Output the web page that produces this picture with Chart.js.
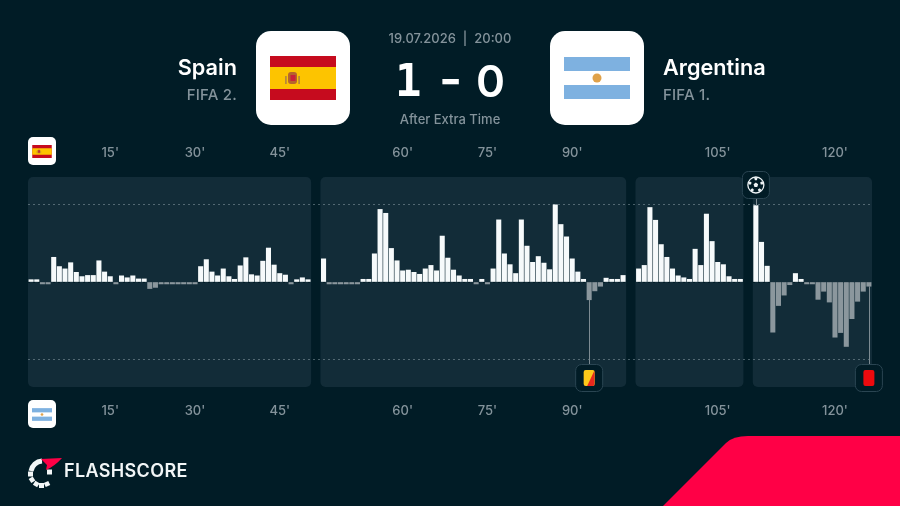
<!DOCTYPE html>
<html>
<head>
<meta charset="utf-8">
<title>Spain - Argentina momentum</title>
<script src="https://cdn.jsdelivr.net/npm/chart.js@4"></script>
<style>
html, body { margin: 0; padding: 0; background: #011c26; }
body { position: relative; width: 900px; height: 506px; overflow: hidden; font-family: Inter, sans-serif; color: #fff; }
canvas { position: absolute; left: 0; top: 0; }
.t { position: absolute; white-space: nowrap; line-height: 1; }
.team { font-size: 21.7px; font-weight: 600; top: 57px; }
.rank { font-size: 15px; font-weight: 500; color: #84939b; top: 87px; letter-spacing: 0.2px; }
.info { font-size: 13px; font-weight: 500; color: #84939b; left: 300px; width: 300px; text-align: center; }
.score { font-size: 44px; font-weight: 600; top: 59px; }
.tile { position: absolute; background: #fff; }
.tile svg { position: absolute; display: block; }
.big { width: 94px; height: 94px; top: 31px; border-radius: 15px; }
.big svg { left: 14px; top: 25px; width: 66px; height: 44px; }
.mini { width: 28px; height: 28px; left: 28px; border-radius: 5px; }
.mini svg { left: 4px; top: 8px; width: 20px; height: 13px; }
.brand { font-size: 18px; font-weight: 600; left: 64px; top: 462px; letter-spacing: 0.35px; color: #f2f6f7; }
</style>
</head>
<body>
<svg width="0" height="0" style="position:absolute">
  <symbol id="flag-es" viewBox="0 0 66 44">
    <rect width="66" height="44" fill="#c60b1e"/>
    <rect y="11" width="66" height="22" fill="#fdc400"/>
    <rect x="18" y="16" width="9" height="12" rx="3" fill="#b5652c"/>
    <rect x="20.5" y="19" width="5" height="6" fill="#c8233a"/>
    <rect x="15" y="20" width="1.8" height="8" fill="#b98a3a"/>
    <rect x="28.2" y="20" width="1.8" height="8" fill="#b98a3a"/>
  </symbol>
  <symbol id="flag-ar" viewBox="0 0 66 42">
    <rect width="66" height="42" fill="#7eb1e0"/>
    <rect y="14" width="66" height="14" fill="#fff"/>
    <circle cx="33" cy="21" r="4.5" fill="#e0a24a"/>
  </symbol>
</svg>

<canvas id="momentum" width="900" height="506"></canvas>

<div class="t team" style="right:663px">Spain</div>
<div class="t rank" style="right:663px">FIFA 2.</div>
<div class="t team" style="left:663px">Argentina</div>
<div class="t rank" style="left:663px">FIFA 1.</div>
<div class="t info" style="top:32px">19.07.2026&nbsp; |&nbsp; 20:00</div>
<div class="t info" style="top:113px">After Extra Time</div>
<div class="t score" style="left:395px;font-family:'DejaVu Sans Mono'">1</div>
<div class="t score" style="left:439px;font-size:50px;top:54px">-</div>
<div class="t score" style="left:476px">0</div>

<div class="tile big" style="left:256px"><svg><use href="#flag-es"/></svg></div>
<div class="tile big" style="left:550px"><svg style="top:26px;height:42px"><use href="#flag-ar"/></svg></div>
<div class="tile mini" style="top:137px"><svg><use href="#flag-es"/></svg></div>
<div class="tile mini" style="top:400px"><svg><use href="#flag-ar"/></svg></div>

<svg style="position:absolute;left:0;top:0" width="900" height="506">
  <path d="M663 506 L726 443 Q733 436 748 436 L900 436 L900 506 Z" fill="#ff0046"/>
  <g fill="none" stroke="#f2f6f7" stroke-width="5">
    <path d="M31 471 A12 12 0 0 1 42 461" />
    <path d="M28 474 L33 474" />
    <path d="M30 481 L34 478.5" />
    <path d="M35 486 L37.5 482" />
    <path d="M41.5 488 L41.5 483" />
    <path d="M48 486 L46 482" />
    <path d="M52 472 L47 472" />
  </g>
  <path d="M41 459 L62 458 Q55 466 46 470 L47 465 Z" fill="#ff0046"/>
</svg>
<div class="t brand">FLASHSCORE</div>

<script>
const periodStarts = [1, 46, 91, 106];
const firstPeriod = [3, 3, -2.5, -2.5, 32, 20, 17, 25, 12.5, 7, 8.5, 8.5, 27.5, 13, 7, -2.5, 8, 5.5, 8, 4, 4, -8.5, -7, -2.5, -2.5, -2.5, -2.5, -2.5, -2.5, -2.5, 20, 29, 13, 8, 17, 7, 3.5, 21, 31.5, 9.5, 8, 27, 44, 22, 11, 9, -2.5, 3, 5.5, 3];
const secondPeriod = [30, -2.5, -2.5, -2.5, -2.5, -2.5, -2.5, 3.5, 3.5, 36.5, 94, 89, 43.5, 27.5, 14.5, 15.5, 12.5, 10, 17, 21.5, 14.5, 59.5, 31, 15.5, 8, 3.5, 3.5, -2.5, 3.5, -2.5, 17, 80.5, 36.5, 22.5, 11, 80.5, 46.5, 25.5, 33, 24.5, 16, 100, 74.5, 58.5, 30, 13, 3.5, -23, -11.5, -5.5, 5, 3.5, 3.5, 8.5];
const thirdPeriod = [17, 21.5, 96.5, 80, 48.5, 32, 17, 8, 5.5, 3.5, 42.5, 21.5, 88, 52.5, 25.5, 22.5, 7, 3.5, 3.5];
const fourthPeriod = [99, 51.5, 20.5, -65, -30.5, -17, -3.5, 11, 3.5, -2.5, -2.5, -22.5, -12, -26, -71.5, -65.5, -83.5, -47.5, -25, -12, -5.5];
const tickMinutes = [15, 30, 45, 60, 75, 90, 105, 120];
const eventTypes = ['yellowred', 'goal', 'red'];
const eventMinutes = [93, 106, 126];
const eventPeriods = [1, 3, 3];

const periods = [firstPeriod, secondPeriod, thirdPeriod, fourthPeriod];
const gapSlots = 2.75;
const panelPad = 0.55;

// x axis runs in bar slots so the periods can sit apart with a small gap
const periodOffsets = [];
let nextOffset = 0;
periods.forEach(values => {
    periodOffsets.push(nextOffset);
    nextOffset += values.length - 1 + gapSlots;
});
const lastSlot = nextOffset - gapSlots;

const slotOf = (period, minute) => periodOffsets[period] + minute - periodStarts[period];
const periodOfMinute = minute => periods.findIndex((values, i) =>
    minute >= periodStarts[i] && minute < periodStarts[i] + values.length);
const tickSlots = tickMinutes.map(m => slotOf(periodOfMinute(m), m));

const seriesPoints = keep => periods.flatMap((values, p) =>
    values.map((v, i) => ({ x: periodOffsets[p] + i, y: v })).filter(d => keep(d.y)));

const roundedBox = (ctx, x, y, w, h, r) => {
    ctx.beginPath();
    ctx.roundRect(x, y, w, h, r);
};

const panelsPlugin = {
    id: 'panels',
    beforeDraw(chart) {
        const { ctx, chartArea, scales } = chart;
        ctx.save();
        ctx.fillStyle = '#122c38';
        periods.forEach((values, p) => {
            const x0 = scales.x.getPixelForValue(periodOffsets[p] - panelPad);
            const x1 = scales.x.getPixelForValue(periodOffsets[p] + values.length - 1 + panelPad);
            roundedBox(ctx, x0, chartArea.top, x1 - x0, chartArea.bottom - chartArea.top, 5);
            ctx.fill();
        });
        ctx.restore();
    }
};

const drawBall = (ctx, x, y) => {
    ctx.strokeStyle = '#eef3f5';
    ctx.fillStyle = '#eef3f5';
    ctx.lineWidth = 1.3;
    ctx.beginPath();
    ctx.arc(x, y, 8, 0, Math.PI * 2);
    ctx.stroke();
    const pentagon = (cx, cy, r) => {
        ctx.beginPath();
        for (let i = 0; i < 5; i++) {
            const a = -Math.PI / 2 + i * Math.PI * 2 / 5;
            ctx.lineTo(cx + Math.cos(a) * r, cy + Math.sin(a) * r);
        }
        ctx.closePath();
        ctx.fill();
    };
    pentagon(x, y, 2.4);
    for (let i = 0; i < 5; i++) {
        const a = -Math.PI / 2 + i * Math.PI * 2 / 5;
        pentagon(x + Math.cos(a) * 6.2, y + Math.sin(a) * 6.2, 1.7);
    }
};

const eventsPlugin = {
    id: 'events',
    afterDatasetsDraw(chart) {
        const { ctx, chartArea, scales } = chart;
        ctx.save();
        eventTypes.forEach((type, i) => {
            const p = eventPeriods[i];
            const minute = eventMinutes[i];
            const x = scales.x.getPixelForValue(slotOf(p, minute));
            const barEnd = scales.y.getPixelForValue(periods[p][minute - periodStarts[p]]);
            const iconY = type === 'goal' ? chartArea.top + 8 : chartArea.bottom - 9;

            ctx.strokeStyle = '#7d8b92';
            ctx.lineWidth = 1;
            ctx.beginPath();
            ctx.moveTo(Math.round(x) + 0.5, barEnd);
            ctx.lineTo(Math.round(x) + 0.5, iconY);
            ctx.stroke();

            roundedBox(ctx, x - 13.5, iconY - 13.5, 27, 27, 6);
            ctx.fillStyle = '#011c26';
            ctx.fill();
            ctx.strokeStyle = '#2a4552';
            ctx.stroke();

            if (type === 'goal') {
                drawBall(ctx, x, iconY);
            } else {
                roundedBox(ctx, x - 5.5, iconY - 8, 11, 16, 2);
                ctx.fillStyle = type === 'red' ? '#ee0a0e' : '#fdc91a';
                ctx.fill();
                if (type === 'yellowred') {
                    ctx.save();
                    ctx.clip();
                    ctx.fillStyle = '#e8281e';
                    ctx.beginPath();
                    ctx.moveTo(x + 5.5, iconY - 8);
                    ctx.lineTo(x + 5.5, iconY + 8);
                    ctx.lineTo(x - 2, iconY + 8);
                    ctx.closePath();
                    ctx.fill();
                    ctx.restore();
                }
            }
        });
        ctx.restore();
    }
};

const timeAxis = (position, padding) => ({
    type: 'linear',
    position,
    offset: false,
    min: -panelPad,
    max: lastSlot + panelPad,
    border: { display: false },
    grid: { display: false, drawTicks: false },
    afterBuildTicks: axis => { axis.ticks = tickSlots.map(value => ({ value })); },
    ticks: {
        padding,
        autoSkip: false,
        maxRotation: 0,
        color: '#84939b',
        font: { family: 'Inter', size: 13, weight: '500' },
        callback: (value, index) => tickMinutes[index] + "'"
    }
});

new Chart(document.getElementById('momentum').getContext('2d'), {
    type: 'bar',
    data: {
        datasets: [
            {
                label: 'Spain',
                data: seriesPoints(v => v > 0),
                backgroundColor: '#f6fafb',
                barThickness: 4.4,
                grouped: false
            },
            {
                label: 'Argentina',
                data: seriesPoints(v => v < 0),
                backgroundColor: '#8b979d',
                barThickness: 4.4,
                grouped: false
            }
        ]
    },
    options: {
        responsive: false,
        animation: false,
        layout: { autoPadding: false, padding: { left: 28, right: 28, top: 129.4, bottom: 70 } },
        plugins: {
            legend: { display: false },
            tooltip: { enabled: false }
        },
        scales: {
            x: timeAxis('bottom', 16.7),
            xTop: timeAxis('top', 16),
            y: {
                min: -136,
                max: 136,
                afterBuildTicks: axis => { axis.ticks = [-100, 0, 100].map(value => ({ value })); },
                ticks: { display: false },
                border: { display: false, dash: [2, 3] },
                grid: {
                    drawTicks: false,
                    color: ctx => ctx.tick.value === 0 ? '#011c26' : 'rgba(190, 205, 212, 0.38)'
                }
            }
        }
    },
    plugins: [panelsPlugin, eventsPlugin]
});
</script>
</body>
</html>
